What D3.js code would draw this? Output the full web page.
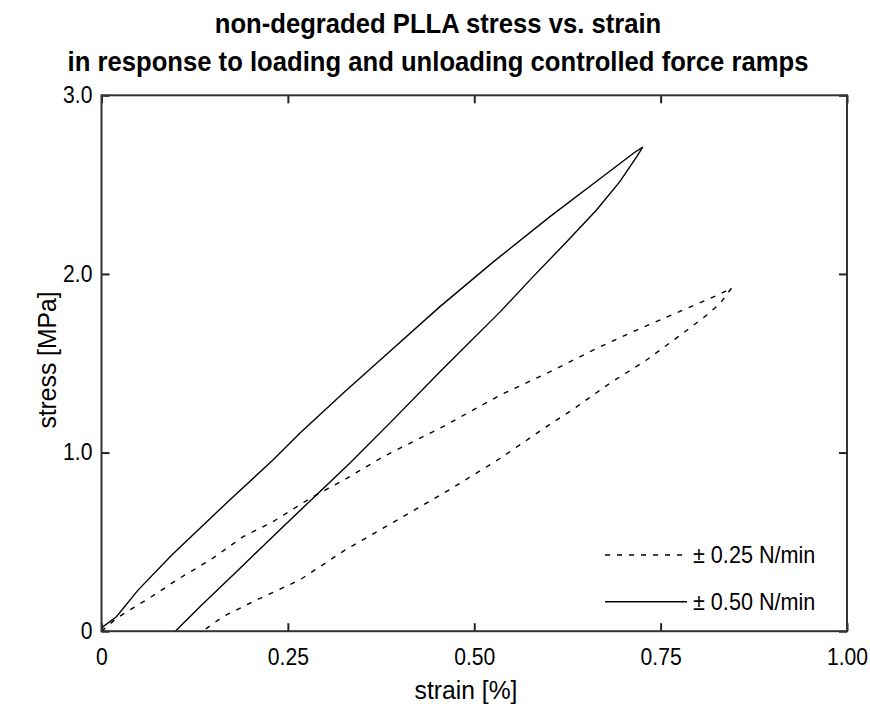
<!DOCTYPE html>
<html>
<head>
<meta charset="utf-8">
<script src="https://cdn.jsdelivr.net/npm/d3@7"></script>
<style>
  html, body { margin: 0; padding: 0; background: #fff; }
  svg { display: block; font-family: "Liberation Sans", Arial, sans-serif; }
</style>
</head>
<body>
<svg id="chart" width="870" height="706"></svg>
<script>
// Stress–strain loops of non-degraded PLLA under two force-ramp rates
const titleLines = [
  "non-degraded PLLA stress vs. strain",
  "in response to loading and unloading controlled force ramps"
];
const xTicks = [0, 0.25, 0.5, 0.75, 1.0];
const xTickLabels = ["0", "0.25", "0.50", "0.75", "1.00"];
const yTicks = [0, 1, 2, 3];
const yTickLabels = ["0", "1.0", "2.0", "3.0"];

// ±0.50 N/min ramp: loading branch, then unloading branch  [strain %, stress MPa]
const solidLoading = [
  [0, 0], [0.002, 0.025], [0.020, 0.081], [0.049, 0.23], [0.094, 0.425],
  [0.172, 0.735], [0.230, 0.958], [0.266, 1.108], [0.324, 1.332], [0.369, 1.50],
  [0.454, 1.817], [0.526, 2.069], [0.602, 2.322], [0.669, 2.534], [0.714, 2.677],
  [0.726, 2.71]
];
const solidUnloading = [
  [0.726, 2.71], [0.718, 2.657], [0.695, 2.515], [0.664, 2.358], [0.624, 2.18],
  [0.579, 1.985], [0.535, 1.789], [0.454, 1.453], [0.391, 1.183], [0.333, 0.94],
  [0.239, 0.567], [0.181, 0.333], [0.132, 0.137], [0.099, 0]
];

// ±0.25 N/min ramp
const dashedLoading = [
  [0, 0], [0.020, 0.072], [0.038, 0.119], [0.067, 0.193], [0.101, 0.287], [0.146, 0.399],
  [0.190, 0.529], [0.230, 0.613], [0.280, 0.744], [0.329, 0.856], [0.378, 0.977],
  [0.458, 1.145], [0.535, 1.322], [0.602, 1.453], [0.666, 1.587], [0.718, 1.686],
  [0.780, 1.798], [0.830, 1.888], [0.845, 1.92]
];
const dashedUnloading = [
  [0.845, 1.92], [0.830, 1.836], [0.812, 1.770], [0.780, 1.668], [0.731, 1.518],
  [0.682, 1.388], [0.628, 1.229], [0.602, 1.16], [0.535, 0.968], [0.470, 0.80],
  [0.400, 0.63], [0.327, 0.455], [0.266, 0.287], [0.208, 0.175], [0.163, 0.081],
  [0.141, 0.016], [0.137, 0]
];

const legendLabels = ["\u00B1 0.25 N/min", "\u00B1 0.50 N/min"];

const svg = d3.select("#chart");
const plot = { left: 101.5, right: 847, top: 95.3, bottom: 631.2 };

const x = d3.scaleLinear().domain([0, 1]).range([plot.left, plot.right]);
const y = d3.scaleLinear().domain([0, 3]).range([plot.bottom, plot.top]);

const line = d3.line().x(d => x(d[0])).y(d => y(d[1]));
const fontSize = 23;
const squeezeX = 0.92;     // text is a little narrower than the stock face
const tickLen = 8;
const dashPattern = "5,7";

// draw text at (tx, ty) narrowed horizontally around its anchor point
function squeezedText(parent, tx, ty, str, opts = {}) {
  const sx = opts.squeeze || squeezeX;
  const g = parent.append("g")
    .attr("transform", `translate(${tx},${ty}) ${opts.rotate ? `rotate(${opts.rotate})` : ""} scale(${sx},1)`);
  return g.append("text")
    .attr("text-anchor", opts.anchor || "start")
    .attr("font-size", opts.size || fontSize)
    .attr("font-weight", opts.weight || "normal")
    .attr("dy", opts.dy || 0)
    .attr("fill", "#000")
    .text(str);
}

// title
titleLines.forEach((t, i) => {
  squeezedText(svg, 438, 33 + i * 38, t, { anchor: "middle", size: 27, weight: "bold", squeeze: 0.95 });
});

// curves
const curves = [
  { data: solidLoading, dash: null },
  { data: solidUnloading, dash: null },
  { data: dashedLoading, dash: dashPattern },
  { data: dashedUnloading, dash: dashPattern }
];
svg.append("g").selectAll("path").data(curves).join("path")
  .attr("d", d => line(d.data))
  .attr("fill", "none")
  .attr("stroke", "#000")
  .attr("stroke-width", 1.4)
  .attr("stroke-dasharray", d => d.dash);

// axes (ticks pointing inward on all four sides)
const axisBottom = d3.axisBottom(x).tickValues(xTicks).tickSize(-tickLen).tickPadding(17)
  .tickFormat((d, i) => xTickLabels[i]);
const axisTop = d3.axisTop(x).tickValues(xTicks).tickSize(-tickLen).tickFormat("");
const axisLeft = d3.axisLeft(y).tickValues(yTicks).tickSize(-tickLen).tickPadding(9)
  .tickFormat((d, i) => yTickLabels[i]);
const axisRight = d3.axisRight(y).tickValues(yTicks).tickSize(-tickLen).tickFormat("");

function styleAxis(g) {
  g.select(".domain").remove();
  g.selectAll(".tick line").attr("stroke", "#222").attr("stroke-width", 2);
  g.selectAll(".tick text")
    .attr("font-size", fontSize).attr("fill", "#000")
    .attr("font-family", "'Liberation Sans', Arial, sans-serif")
    .attr("transform", `scale(${squeezeX},1)`)
    .attr("x", function () { return +d3.select(this).attr("x") / squeezeX || 0; });
}
svg.append("g").attr("transform", `translate(0,${plot.bottom})`).call(axisBottom).call(styleAxis);
svg.append("g").attr("transform", `translate(0,${plot.top})`).call(axisTop).call(styleAxis);
svg.append("g").attr("transform", `translate(${plot.left},0)`).call(axisLeft).call(styleAxis);
svg.append("g").attr("transform", `translate(${plot.right},0)`).call(axisRight).call(styleAxis);

// frame
svg.append("rect")
  .attr("x", plot.left).attr("y", plot.top)
  .attr("width", plot.right - plot.left).attr("height", plot.bottom - plot.top)
  .attr("fill", "none").attr("stroke", "#333").attr("stroke-width", 2);

// axis labels
squeezedText(svg, 466, 699, "strain [%]", { anchor: "middle", size: 26, squeeze: 0.95 });
squeezedText(svg, 56, 360, "stress [MPa]", { anchor: "middle", size: 26, rotate: -90, squeeze: 0.95 });

// legend
const legend = svg.append("g");
const legendRows = [
  { label: legendLabels[0], dash: dashPattern, y: 555 },
  { label: legendLabels[1], dash: null, y: 601.7 }
];
legendRows.forEach(r => {
  legend.append("line")
    .attr("x1", 605).attr("x2", 687).attr("y1", r.y).attr("y2", r.y)
    .attr("stroke", "#000").attr("stroke-width", 1.4)
    .attr("stroke-dasharray", r.dash);
  squeezedText(legend, 693, r.y, r.label, { dy: "0.36em", size: 23.5 });
});
</script>
</body>
</html>
